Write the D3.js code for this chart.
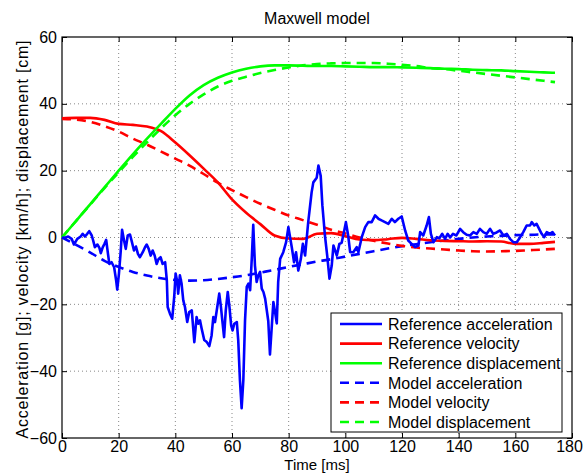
<!DOCTYPE html>
<html>
<head>
<meta charset="utf-8">
<script src="https://cdn.jsdelivr.net/npm/d3@7"></script>
<style>
  html, body { margin: 0; padding: 0; background: #fff; }
  svg { display: block; font-family: "Liberation Sans", Arial, sans-serif; }
</style>
</head>
<body>
<div id="chart"></div>
<script>
// time axis shared by the smooth curves (ms)
const smoothTime = [0, 5, 10, 15, 20, 25, 30, 35, 40, 45, 50, 55, 60, 65, 70, 75, 80, 85,
  90, 95, 100, 105, 110, 115, 120, 125, 130, 135, 140, 145, 150, 155, 160, 165, 170, 174];

const refVelocity = [35.7, 35.8, 35.8, 35.2, 34.0, 33.7, 33.2, 31.8, 28.4, 24.6, 20.6, 16.5,
  11.4, 7.4, 4.0, 0.6, -0.3, -0.4, 1.1, 1.3, 0.4, -0.6, -0.8, -0.5, -0.1, -0.4, -0.8, -1.0,
  -1.1, -1.2, -1.1, -1.2, -1.9, -1.9, -1.6, -1.3];

const refDisplacement = [0, 5, 10, 15, 20, 24.9, 29.6, 34.1, 38.5, 42.5, 45.6, 47.8, 49.4,
  50.5, 51.2, 51.5, 51.5, 51.4, 51.3, 51.3, 51.2, 51.1, 51.0, 51.0, 50.9, 50.8, 50.7, 50.5,
  50.4, 50.2, 50.1, 50.0, 49.8, 49.6, 49.4, 49.3];

const modelAcceleration = [0, -2.2, -4.5, -7.0, -8.8, -10.3, -11.4, -12.2, -12.7, -12.9, -12.8,
  -12.4, -11.9, -11.3, -10.5, -9.7, -8.8, -8.0, -7.2, -6.5, -5.7, -4.9, -4.1, -3.3, -2.6, -2.0,
  -1.4, -0.9, -0.4, 0, 0.3, 0.5, 0.7, 0.8, 0.9, 0.9];

const modelVelocity = [35.5, 35.3, 34.6, 33.3, 31.7, 29.6, 27.8, 25.7, 23.6, 21.5, 19.0, 16.4,
  14.2, 12.1, 10.1, 8.3, 6.6, 5.2, 3.8, 2.3, 1.2, 0, -1.0, -1.8, -2.5, -3.0, -3.3, -3.6, -3.9,
  -4.1, -4.2, -4.1, -4.0, -3.8, -3.6, -3.4];

const modelDisplacement = [0, 5, 9.9, 14.8, 19.5, 24.1, 28.5, 32.7, 36.6, 40.0, 42.8, 45.2,
  46.9, 48.1, 49.2, 50.1, 50.9, 51.5, 51.9, 52.1, 52.2, 52.2, 52.2, 52.0, 51.7, 51.3, 50.7,
  50.4, 49.9, 49.4, 48.9, 48.4, 47.9, 47.4, 46.9, 46.5];

// measured acceleration, sampled at uneven times
const refAccTime = [0, 1, 2.2, 3.4, 4.2, 5.4, 6.6, 7.3, 8.1, 8.9, 9.6, 10.5, 11, 11.6, 12.5,
  13.2, 13.7, 14.4, 15, 15.6, 16, 16.7, 17.5, 18.4, 19.1, 19.5, 20.1, 20.7, 21.2, 21.9, 22.5,
  23.2, 24, 24.6, 25.4, 26.1, 26.8, 27.5, 28.5, 29.3, 29.9, 30.6, 31.3, 32, 32.7, 33.4, 34.1,
  34.8, 35.5, 36.4, 37, 37.3, 38.1, 38.9, 39.6, 40.1, 40.7, 41, 41.6, 42.2, 42.8, 43.4, 44.2,
  44.9, 45.8, 46.7, 47.5, 48.1, 48.7, 49.3, 50.2, 51.1, 52, 52.8, 53.4, 54, 54.8, 55.5, 56.1,
  56.7, 57.2, 57.8, 58.5, 59.1, 59.7, 60.2, 60.8, 61.7, 62.2, 62.8, 63.4, 64, 64.6, 65.2, 65.8,
  66.4, 67, 67.5, 68.1, 68.7, 69.3, 69.9, 70.5, 71.1, 71.7, 72.8, 73.4, 74.6, 75.2, 75.8, 76.3,
  77, 78.1, 79.1, 79.9, 81.1, 81.9, 82.6, 83.4, 84.3, 85, 85.8, 86.9, 88.1, 88.7, 89.9, 90.5,
  91.3, 91.9, 92.8, 93.6, 94.4, 95.2, 95.8, 97, 97.9, 98.7, 99.5, 100.2, 101, 101.7, 102.8, 104,
  104.6, 105.8, 107, 108.1, 109.3, 110.5, 111.7, 112.8, 114, 115.2, 116.4, 117.5, 118.7, 119.9,
  121.1, 122.2, 123.4, 124.6, 125.8, 126.4, 127.5, 128.7, 129.5, 130.2, 131.1, 132.3, 133.2,
  134.2, 135.2, 136.1, 137, 138, 139.2, 140.5, 141.6, 142.8, 144, 145.2, 146.4, 147.5, 148.7,
  149.9, 151.1, 152.2, 153.4, 154.6, 155.8, 157, 158.1, 159.3, 160.5, 161.7, 162.8, 164, 165.2,
  165.8, 166.7, 167.5, 168.4, 169.3, 170.2, 171.1, 172.2, 173.1, 174];

const refAcceleration = [0, -0.1, 0.3, -0.4, -2.1, -0.4, 0.3, 1.1, 0.3, 1.1, 1.9, 0.6, -0.9,
  -2.9, -2.1, -3.1, -4.7, -2.9, -1.9, -0.7, -3.4, -7.9, -7.4, -8.9, -12.8, -15.6, -10.8, -4.4,
  2.3, -0.9, -3.4, 0.6, 0.9, -1.1, -3.9, -2.7, -4.9, -5.9, -4.4, -2.9, -2.1, -3.4, -5.4, -3.9,
  -5.4, -7.9, -6.4, -5.9, -7.9, -7.4, -12.8, -20.8, -22.8, -24.3, -17.8, -10.8, -13.3, -16.8,
  -11.3, -13.8, -18.8, -20.8, -25.3, -22.3, -21.8, -31.3, -23.8, -25.8, -24.8, -27.3, -30.7,
  -31.3, -32.5, -29.3, -23.8, -25.3, -20.8, -16.8, -20.8, -25.8, -29.8, -21.8, -16.3, -20.8,
  -26.3, -27.8, -25.8, -25.3, -30.7, -42.7, -51.1, -42.7, -24.8, -14.8, -13.8, -15.8, -6, 3.8,
  -8.4, -13.3, -11.3, -10.3, -15.3, -16.3, -18.3, -25, -35, -19.3, -22.3, -25.7, -13.3, -6.4,
  -4.4, -1.4, 3.1, -2.9, -7.4, -4.4, -9.9, -6.4, -1.9, -5.4, 4.6, 13.5, 16.5, 17.9, 21.5, 18.5,
  9.6, 0.6, -5.4, -12.3, -8.4, -2.4, -5.4, -1.9, -1.6, 1.6, 4.6, 0.6, -4.4, -4.4, -2.9, -4.4,
  0.1, 3.1, 4.6, 4.6, 6.6, 5.6, 5.1, 4.6, 4.1, 5.6, 4.6, 5.6, 6.3, 2.1, -0.9, -1.9, -2.9, -2.4,
  1.6, 0.6, 3.6, 6.1, 1.1, -1.4, 0.1, -0.2, 1.1, -0.4, 1.1, 0, 1.1, 0.6, 2.6, 1.6, 0.8, 0.6,
  1.6, 1.1, 2.6, 1.6, 1.1, 2.6, 1.1, 1.5, 2.1, 0.6, 1.1, -0.4, -1.4, -1.4, 0.1, 1.6, 3.6, 3.6,
  4.6, 3.6, 4.1, 2.6, 1.1, 0.1, 1.6, 1.1, 1.6, 0.6];

const xTicks = [0, 20, 40, 60, 80, 100, 120, 140, 160, 180];
const yTicks = [-60, -40, -20, 0, 20, 40, 60];

const W = 583, H = 473;
const margin = { top: 37, right: 11, bottom: 35, left: 62 };
const iw = W - margin.left - margin.right;
const ih = H - margin.top - margin.bottom;
const fontSize = 16;

const svg = d3.select("#chart").append("svg")
  .attr("width", W)
  .attr("height", H);

const g = svg.append("g")
  .attr("transform", `translate(${margin.left},${margin.top})`);

const x = d3.scaleLinear().domain([0, 180]).range([0, iw]);
const y = d3.scaleLinear().domain([-60, 60]).range([ih, 0]);

// dotted grid
g.append("g").selectAll("line").data(xTicks.slice(1, -1)).join("line")
  .attr("x1", d => x(d)).attr("x2", d => x(d))
  .attr("y1", 0).attr("y2", ih)
  .attr("stroke", "#888").attr("stroke-width", 1).attr("stroke-dasharray", "1,3");
g.append("g").selectAll("line").data(yTicks.slice(1, -1)).join("line")
  .attr("x1", 0).attr("x2", iw)
  .attr("y1", d => y(d)).attr("y2", d => y(d))
  .attr("stroke", "#888").attr("stroke-width", 1).attr("stroke-dasharray", "1,3");

// axes with inward ticks, box on all sides
const tickLen = 5;
const xAxisG = g.append("g")
  .attr("transform", `translate(0,${ih})`)
  .call(d3.axisBottom(x).tickValues(xTicks).tickSizeInner(-tickLen).tickSizeOuter(0).tickPadding(3));
g.append("g")
  .call(d3.axisLeft(y).tickValues(yTicks).tickSizeInner(-tickLen).tickSizeOuter(0).tickPadding(5));
g.append("g")
  .call(d3.axisTop(x).tickValues(xTicks).tickSizeInner(-tickLen).tickSizeOuter(0).tickFormat(""));
g.append("g")
  .attr("transform", `translate(${iw},0)`)
  .call(d3.axisRight(y).tickValues(yTicks).tickSizeInner(-tickLen).tickSizeOuter(0).tickFormat(""));

g.selectAll(".domain").remove();
g.selectAll(".tick line").attr("stroke", "#000");
g.selectAll(".tick text").attr("font-size", fontSize).attr("fill", "#000")
  .attr("font-family", "'Liberation Sans', Arial, sans-serif");
// keep the last x label inside the canvas
xAxisG.selectAll(".tick text").filter(d => d === 180).attr("dx", -3);

g.append("rect")
  .attr("width", iw).attr("height", ih)
  .attr("fill", "none").attr("stroke", "#000").attr("stroke-width", 1.2);

// curves
const smoothLine = d3.line()
  .x(d => x(d[0])).y(d => y(d[1]))
  .curve(d3.curveMonotoneX);
const rawLine = d3.line()
  .x(d => x(d[0])).y(d => y(d[1]));

const pair = (t, v) => t.map((ti, i) => [ti, v[i]]);

const series = [
  { name: "Reference acceleration", pts: pair(refAccTime, refAcceleration), color: "#0000ff", dash: null, gen: rawLine },
  { name: "Reference velocity", pts: pair(smoothTime, refVelocity), color: "#ff0000", dash: null, gen: smoothLine },
  { name: "Reference displacement", pts: pair(smoothTime, refDisplacement), color: "#00ff00", dash: null, gen: smoothLine },
  { name: "Model acceleration", pts: pair(smoothTime, modelAcceleration), color: "#0000ff", dash: "9,6", gen: smoothLine },
  { name: "Model velocity", pts: pair(smoothTime, modelVelocity), color: "#ff0000", dash: "9,6", gen: smoothLine },
  { name: "Model displacement", pts: pair(smoothTime, modelDisplacement), color: "#00ff00", dash: "9,6", gen: smoothLine }
];

const drawOrder = [3, 4, 5, 1, 2, 0];
drawOrder.forEach(i => {
  const s = series[i];
  g.append("path")
    .attr("d", s.gen(s.pts))
    .attr("fill", "none")
    .attr("stroke", s.color)
    .attr("stroke-width", 2.6)
    .attr("stroke-linejoin", "round")
    .attr("stroke-dasharray", s.dash);
});

// legend
const leg = svg.append("g").attr("transform", "translate(331,313)");
leg.append("rect")
  .attr("width", 231).attr("height", 119)
  .attr("fill", "#fff").attr("stroke", "#000").attr("stroke-width", 1);
series.forEach((s, i) => {
  const ly = 11 + i * 19.6;
  leg.append("line")
    .attr("x1", 9).attr("x2", 51)
    .attr("y1", ly).attr("y2", ly)
    .attr("stroke", s.color).attr("stroke-width", 2.6)
    .attr("stroke-dasharray", s.dash);
  leg.append("text")
    .attr("x", 57).attr("y", ly)
    .attr("dy", "0.36em")
    .attr("font-size", fontSize)
    .text(s.name);
});

// title and axis labels
svg.append("text")
  .attr("x", margin.left + iw / 2).attr("y", 24)
  .attr("text-anchor", "middle").attr("font-size", fontSize)
  .text("Maxwell model");
svg.append("text")
  .attr("x", margin.left + iw / 2).attr("y", 469.7)
  .attr("text-anchor", "middle").attr("font-size", 15)
  .text("Time [ms]");
svg.append("text")
  .attr("transform", `translate(28,${margin.top + ih / 2 + 2}) rotate(-90)`)
  .attr("text-anchor", "middle").attr("font-size", fontSize)
  .attr("textLength", 398).attr("lengthAdjust", "spacing")
  .text("Acceleration [g]; velocity [km/h]; displacement [cm]");
</script>
</body>
</html>
